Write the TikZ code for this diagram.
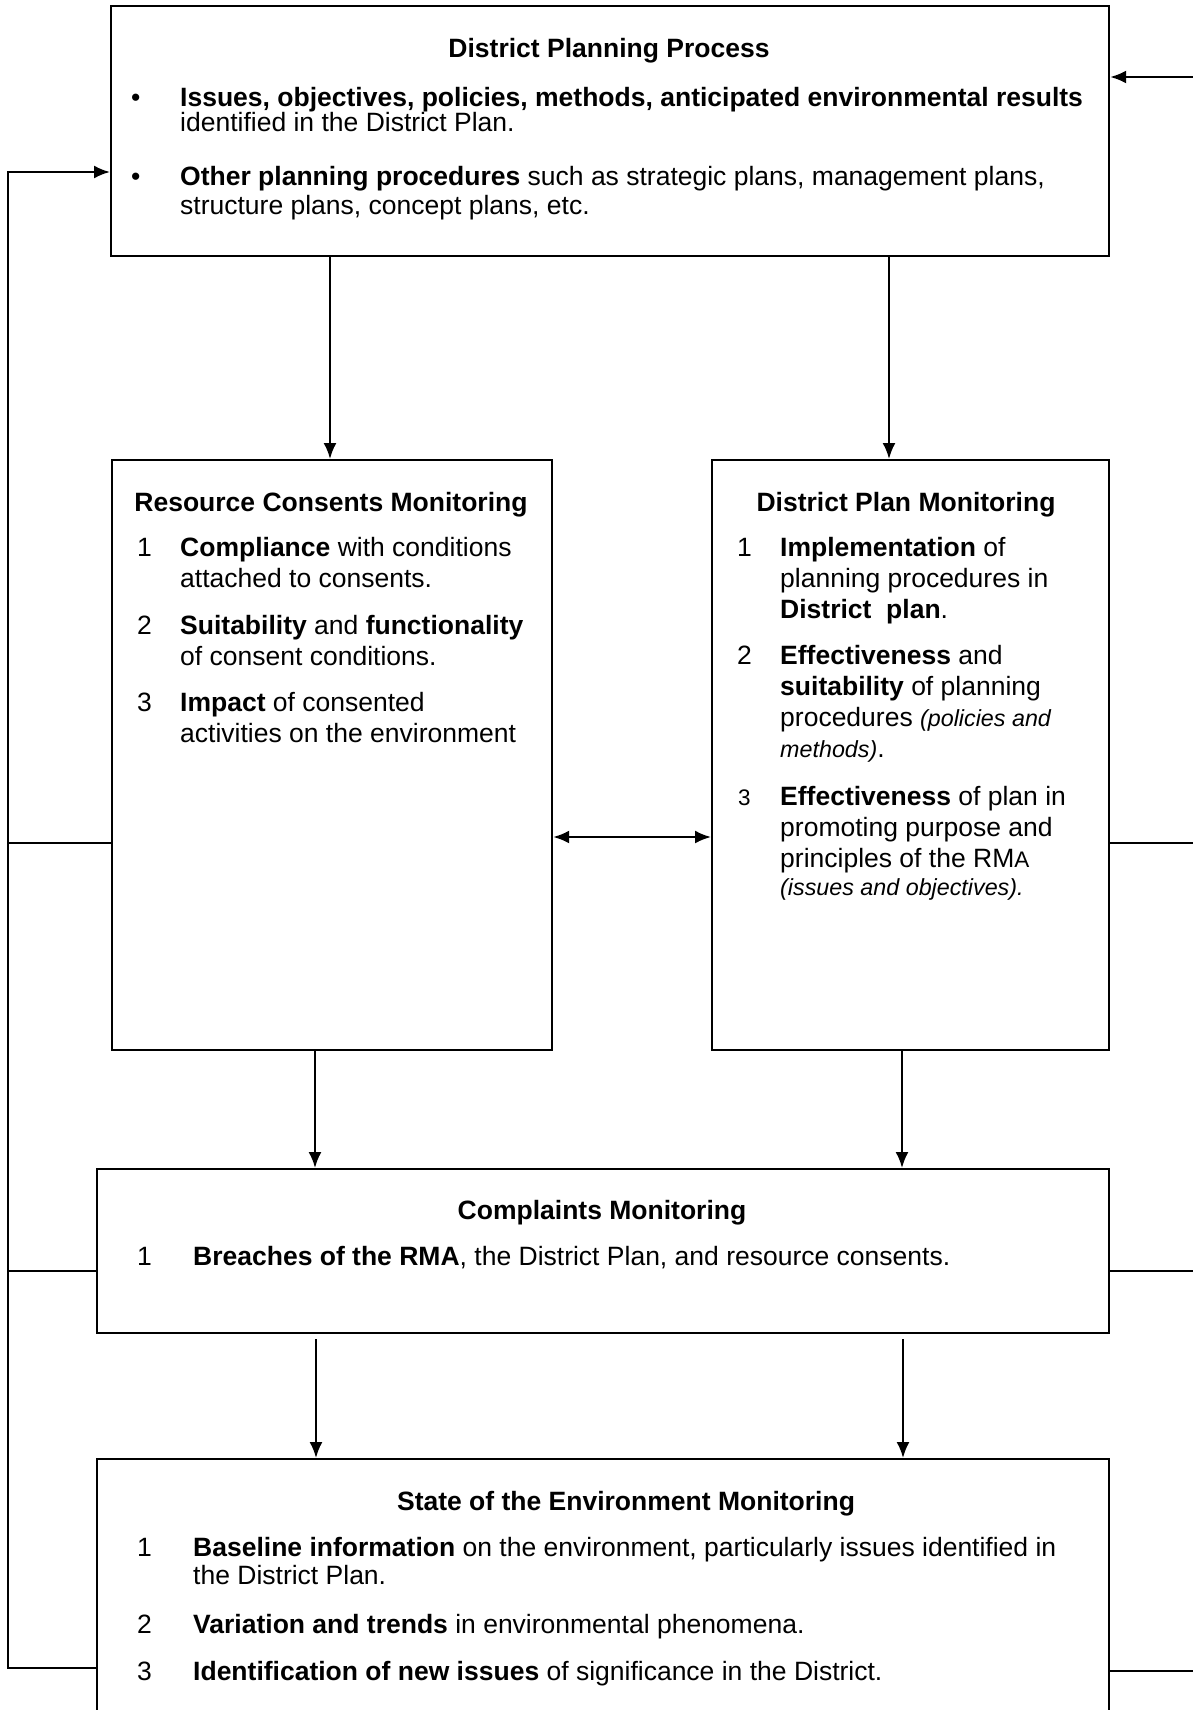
\documentclass[tikz,border=0pt]{standalone}
\usepackage{fontspec}
\setmainfont{Liberation Sans}
\usetikzlibrary{arrows.meta,calc}

% one line of text, placed by its baseline
\newcommand\tline[4]{\node[txt] (#1) at (#2,#3) {#4};}
\newcommand\tsmall{\fontsize{23.3}{28}\selectfont}

\begin{document}
\begin{tikzpicture}[x=1pt,y=-1pt,
  box/.style={draw=black,line width=2.2pt,rectangle,inner sep=0pt,anchor=north west},
  link/.style={draw=black,line width=2.2pt},
  arr/.style={link,-{Latex[length=16pt,width=13pt]}},
  arrboth/.style={link,{Latex[length=16pt,width=13pt]}-{Latex[length=16pt,width=13pt]}},
  txt/.style={anchor=base west,inner sep=0pt,font=\fontsize{26.5}{31}\selectfont},
  ttl/.style={anchor=base,inner sep=0pt,font=\fontsize{26.5}{31}\selectfont\bfseries}]

\useasboundingbox (0,0) rectangle (1192,1710);
\fill[white] (0,0) rectangle (1192,1710);

% ---- boxes ----
\node[box,minimum width=998pt,minimum height=250pt] (top) at (110,5) {};
\node[box,minimum width=440pt,minimum height=590pt] (rc)  at (111,459) {};
\node[box,minimum width=397pt,minimum height=590pt] (dp)  at (711,459) {};
\node[box,minimum width=1012pt,minimum height=164pt] (cp) at (96,1168) {};
\node[box,minimum width=1012pt,minimum height=290pt] (soe) at (96,1458) {};

% ---- District Planning Process ----
\node[ttl] (topT) at (609,57) {District Planning Process};
\tline{b1}{131}{106}{•}
\tline{t1a}{180}{106}{\bfseries Issues, objectives, policies, methods, anticipated environmental results}
\tline{t1b}{180}{131}{identified in the District Plan.}
\tline{b2}{131}{185}{•}
\tline{t2a}{180}{185}{\textbf{Other planning procedures} such as strategic plans, management plans,}
\tline{t2b}{180}{214}{structure plans, concept plans, etc.}

% ---- Resource Consents Monitoring ----
\node[ttl] (rcT) at (331,511) {Resource Consents Monitoring};
\tline{rn1}{137}{556}{1}
\tline{r1a}{180}{556}{\textbf{Compliance} with conditions}
\tline{r1b}{180}{587}{attached to consents.}
\tline{rn2}{137}{634}{2}
\tline{r2a}{180}{634}{\textbf{Suitability} and \textbf{functionality}}
\tline{r2b}{180}{665}{of consent conditions.}
\tline{rn3}{137}{711}{3}
\tline{r3a}{180}{711}{\textbf{Impact} of consented}
\tline{r3b}{180}{742}{activities on the environment}

% ---- District Plan Monitoring ----
\node[ttl] (dpT) at (906,511) {District Plan Monitoring};
\tline{dn1}{737}{556}{1}
\tline{d1a}{780}{556}{\textbf{Implementation} of}
\tline{d1b}{780}{587}{planning procedures in}
\tline{d1c}{780}{618}{\textbf{District\ \ plan}.}
\tline{dn2}{737}{664}{2}
\tline{d2a}{780}{664}{\textbf{Effectiveness} and}
\tline{d2b}{780}{695}{\textbf{suitability} of planning}
\tline{d2c}{780}{726}{procedures {\tsmall\itshape (policies and}}
\tline{d2d}{780}{757}{{\tsmall\itshape methods)}.}
\tline{dn3}{738}{805}{\fontsize{22.5}{27}\selectfont 3}
\tline{d3a}{780}{805}{\textbf{Effectiveness} of plan in}
\tline{d3b}{780}{836}{promoting purpose and}
\tline{d3c}{780}{867}{principles of the RM{\fontsize{22.5}{27}\selectfont A}}
\tline{d3d}{780}{895}{\tsmall\itshape (issues and objectives).}

% ---- Complaints Monitoring ----
\node[ttl] (cpT) at (602,1219) {Complaints Monitoring};
\tline{cn1}{137}{1265}{1}
\tline{c1a}{193}{1265}{\textbf{Breaches of the RMA}, the District Plan, and resource consents.}

% ---- State of the Environment Monitoring ----
\node[ttl] (soeT) at (626,1510) {State of the Environment Monitoring};
\tline{sn1}{137}{1556}{1}
\tline{s1a}{193}{1556}{\textbf{Baseline information} on the environment, particularly issues identified in}
\tline{s1b}{193}{1584}{the District Plan.}
\tline{sn2}{137}{1633}{2}
\tline{s2a}{193}{1633}{\textbf{Variation and trends} in environmental phenomena.}
\tline{sn3}{137}{1680}{3}
\tline{s3a}{193}{1680}{\textbf{Identification of new issues} of significance in the District.}

% ---- guide coordinates for the connectors ----
\coordinate (xL) at (8,0);
\coordinate (xR) at (1200,0);
\coordinate (xA) at (330,0);
\coordinate (xB) at (889,0);
\coordinate (xC) at (315,0);
\coordinate (xD) at (902,0);
\coordinate (xE) at (316,0);
\coordinate (xF) at (903,0);
\coordinate (yTopR) at (0,77);
\coordinate (yIn) at (0,172);
\coordinate (yDbl) at (0,837);
\coordinate (yMid) at (0,843);
\coordinate (yCp) at (0,1271);
\coordinate (ySoeL) at (0,1668);
\coordinate (ySoeR) at (0,1671);

% ---- downward flow ----
\draw[arr] (top.south -| xA) -- (rc.north -| xA);
\draw[arr] (top.south -| xB) -- (dp.north -| xB);
\draw[arr] (rc.south -| xC) -- (cp.north -| xC);
\draw[arr] (dp.south -| xD) -- (cp.north -| xD);
\draw[arr] ($(cp.south -| xE)+(0,5)$) -- (soe.north -| xE);
\draw[arr] ($(cp.south -| xF)+(0,5)$) -- (soe.north -| xF);

% ---- link between the two monitoring boxes ----
\draw[arrboth] (rc.east |- yDbl) -- (dp.west |- yDbl);

% ---- feedback on the left ----
\draw[arr] (soe.west |- ySoeL) -- (xL |- ySoeL) -- (xL |- yIn) -- (top.west |- yIn);
\draw[link] (rc.west |- yMid) -- (xL |- yMid);
\draw[link] (cp.west |- yCp) -- (xL |- yCp);

% ---- feedback on the right ----
\draw[arr] (xR |- yTopR) -- (top.east |- yTopR);
\draw[link] (dp.east |- yMid) -- (xR |- yMid);
\draw[link] (cp.east |- yCp) -- (xR |- yCp);
\draw[link] (soe.east |- ySoeR) -- (xR |- ySoeR);
\end{tikzpicture}
\end{document}
